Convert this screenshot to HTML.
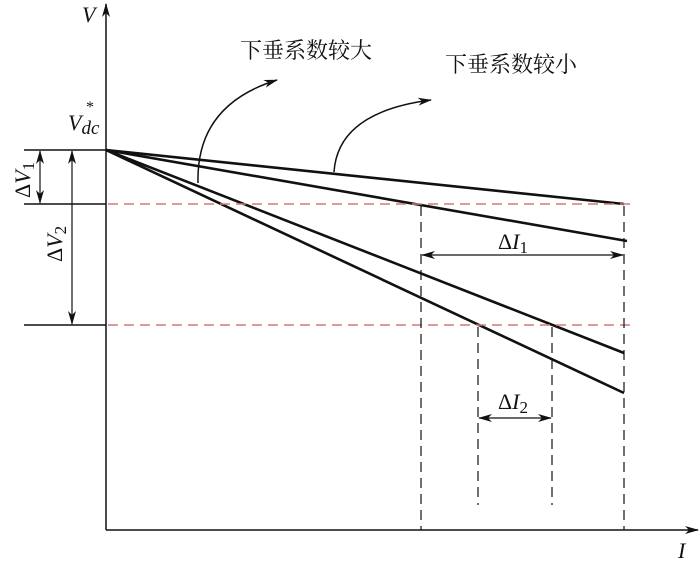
<!DOCTYPE html>
<html><head><meta charset="utf-8"><style>html,body{margin:0;padding:0;background:#fff}svg{display:block}</style></head><body>
<svg width="700" height="564" viewBox="0 0 700 564" xmlns="http://www.w3.org/2000/svg">
<defs>
<marker id="a" markerWidth="14" markerHeight="8" refX="13" refY="4" orient="auto" markerUnits="userSpaceOnUse"><path d="M0,0 L14,4 L0,8 L4,4 Z" fill="#111"/></marker>
<marker id="b" markerWidth="14" markerHeight="8" refX="1" refY="4" orient="auto" markerUnits="userSpaceOnUse"><path d="M14,0 L0,4 L14,8 L10,4 Z" fill="#111"/></marker>
</defs>
<g stroke="#111" fill="none">
<line x1="106" y1="530" x2="106" y2="4" stroke-width="1.5" marker-end="url(#a)"/>
<line x1="106" y1="530" x2="698" y2="530" stroke-width="1.5" marker-end="url(#a)"/>
<line x1="24" y1="150" x2="106" y2="150" stroke-width="1.5"/>
<line x1="24" y1="204" x2="106" y2="204" stroke-width="1.5"/>
<line x1="24" y1="325" x2="106" y2="325" stroke-width="1.5"/>
<line x1="40" y1="151" x2="40" y2="203" stroke-width="1.2" marker-start="url(#b)" marker-end="url(#a)"/>
<line x1="72" y1="151" x2="72" y2="324" stroke-width="1.2" marker-start="url(#b)" marker-end="url(#a)"/>
<g stroke-width="2.6">
<line x1="106" y1="150" x2="624" y2="204"/>
<line x1="106" y1="150" x2="627" y2="241"/>
<line x1="106" y1="150" x2="624" y2="353"/>
<line x1="106" y1="150" x2="624" y2="393"/>
</g>
<g stroke="#d47a7a" stroke-width="1.5" stroke-dasharray="10,6">
<line x1="108" y1="204" x2="632" y2="204"/>
<line x1="108" y1="325" x2="632" y2="325"/>
</g>
<g stroke-width="1.2" stroke-dasharray="10,6">
<line x1="421" y1="206" x2="421" y2="530"/>
<line x1="624" y1="206" x2="624" y2="530"/>
<line x1="478" y1="327" x2="478" y2="505"/>
<line x1="552" y1="327" x2="552" y2="505"/>
</g>
<line x1="422" y1="255" x2="623" y2="255" stroke-width="1.2" marker-start="url(#b)" marker-end="url(#a)"/>
<line x1="479" y1="418" x2="551" y2="418" stroke-width="1.2" marker-start="url(#b)" marker-end="url(#a)"/>
<path d="M198,183 Q196,105 277,80" stroke-width="1.5" marker-end="url(#a)"/>
<path d="M334,172 Q338,112 431,100" stroke-width="1.5" marker-end="url(#a)"/>
</g>
<g font-family="Liberation Serif, serif" fill="#111">
<text x="240" y="58" font-size="22" font-family="Liberation Serif, Noto Serif CJK SC, serif">下垂系数较大</text>
<text x="445" y="72" font-size="22" font-family="Liberation Serif, Noto Serif CJK SC, serif">下垂系数较小</text>
<text x="82" y="22" font-size="22" font-style="italic">V</text>
<text x="68" y="130" font-size="22" font-style="italic">V<tspan font-size="19" dy="4">dc</tspan></text>
<text x="86" y="112" font-size="16">*</text>
<text x="678" y="558" font-size="22" font-style="italic">I</text>
<text x="498" y="249" font-size="22">Δ<tspan font-style="italic">I</tspan><tspan font-size="17" dy="4">1</tspan></text>
<text x="498" y="409" font-size="22">Δ<tspan font-style="italic">I</tspan><tspan font-size="17" dy="4">2</tspan></text>
<text transform="translate(30,198) rotate(-90)" font-size="22">Δ<tspan font-style="italic">V</tspan><tspan font-size="17" dy="4">1</tspan></text>
<text transform="translate(62,262) rotate(-90)" font-size="22">Δ<tspan font-style="italic">V</tspan><tspan font-size="17" dy="4">2</tspan></text>
</g>
</svg>
</body></html>
